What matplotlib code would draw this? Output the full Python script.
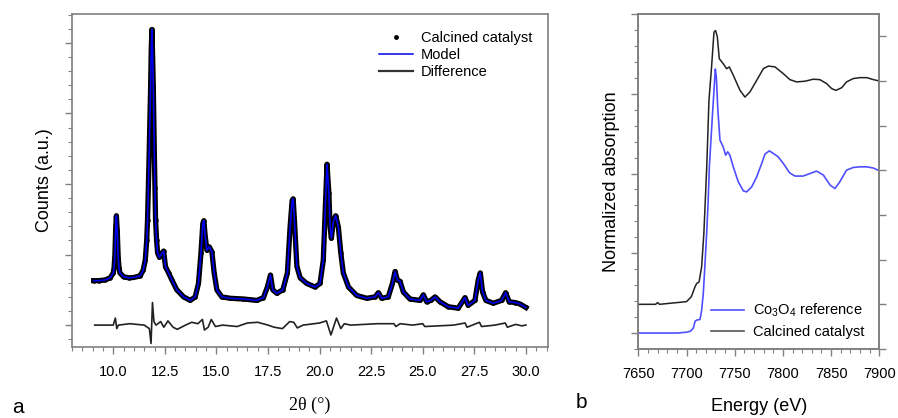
import matplotlib
matplotlib.use("Agg")
import matplotlib.pyplot as plt
from matplotlib.lines import Line2D
from matplotlib.ticker import MultipleLocator, NullFormatter

plt.rcParams['font.family'] = ['Liberation Sans', 'DejaVu Sans']
plt.rcParams['mathtext.fontset'] = 'custom'
plt.rcParams['mathtext.rm'] = 'Liberation Sans'
plt.rcParams['mathtext.it'] = 'Liberation Sans:italic'

# --- panel a: XRD refinement (2theta in degrees, counts in a.u.) ---
two_theta = [9.05, 9.3, 9.6, 9.85, 10.0, 10.04, 10.08, 10.12, 10.15, 10.19,
             10.24, 10.28, 10.32, 10.5, 10.75, 10.98, 11.2, 11.31, 11.45, 11.55,
             11.62, 11.66, 11.70, 11.74, 11.81, 11.84, 11.87, 11.90, 11.94, 11.99,
             12.02, 12.05, 12.10, 12.15, 12.24, 12.36, 12.44, 12.53, 12.68, 12.84,
             13.08, 13.41, 13.73, 13.97, 14.13, 14.25, 14.34, 14.39, 14.46, 14.54,
             14.65, 14.78, 14.89, 15.02, 15.26, 15.67, 16.31, 16.96, 17.28, 17.47,
             17.62, 17.73, 17.93, 18.22, 18.44, 18.57, 18.67, 18.72, 18.78, 18.9,
             19.06, 19.38, 19.78, 20.02, 20.18, 20.28, 20.36, 20.45, 20.51, 20.57,
             20.67, 20.78, 20.91, 21.03, 21.15, 21.4, 21.8, 22.29, 22.69, 22.85,
             23.01, 23.33, 23.53, 23.66, 23.77, 23.9, 24.06, 24.38, 24.87, 25.03,
             25.19, 25.39, 25.6, 25.84, 26.24, 26.72, 27.05, 27.2, 27.53, 27.69,
             27.79, 27.9, 28.06, 28.42, 28.82, 29.02, 29.19, 29.47, 29.71, 30.0]
obs_counts = [630, 630, 640, 670, 740, 820, 1000, 1400, 1550, 1350,
              950, 810, 740, 685, 670, 675, 690, 700, 780, 920,
              1200, 1490, 1950, 2440, 3380, 3900, 4190, 3900, 3380, 2440,
              1950, 1490, 1200, 1020, 960, 1020, 1050, 830, 740, 640,
              500, 400, 350, 400, 590, 1020, 1440, 1480, 1250, 1060,
              1110, 1040, 740, 500, 400, 380, 370, 350, 390, 540,
              710, 500, 450, 500, 740, 1390, 1770, 1790, 1490, 830,
              670, 590, 540, 590, 920, 1680, 2280, 1870, 1390, 1230,
              1470, 1550, 1390, 1020, 740, 540, 420, 380, 400, 460,
              380, 400, 590, 760, 640, 620, 470, 370, 350, 430,
              330, 350, 400, 330, 260, 240, 390, 280, 350, 640,
              740, 470, 350, 310, 350, 460, 330, 320, 300, 250]
# the refined model lies on the measured points within the line width
model_counts = list(obs_counts)

diff_theta = [9.1, 10.0, 10.1, 10.17, 10.25, 10.8, 11.5, 11.75, 11.83, 11.9,
              11.97, 12.07, 12.3, 12.45, 12.65, 12.9, 13.1, 13.5, 13.8, 14.1,
              14.32, 14.42, 14.6, 14.75, 14.95, 15.3, 16.0, 16.5, 17.0, 17.5,
              17.8, 18.2, 18.55, 18.75, 18.92, 19.2, 20.0, 20.33, 20.55, 20.82,
              21.03, 21.2, 21.5, 22.8, 23.6, 23.7, 23.9, 24.5, 25.0, 25.1,
              26.5, 27.05, 27.15, 27.75, 27.85, 28.5, 29.0, 29.1, 29.5, 29.8, 30.0]
diff_counts = [0, 0, 100, -50, 0, 20, 0, -50, -260, 320,
               50, 0, 50, -30, 60, -30, -60, 0, 40, 20,
               80, -70, -30, 80, -20, 0, -20, 30, 40, 0,
               -30, -50, 50, 40, -40, 0, 30, 60, -140, 100,
               -50, 20, 0, 20, 20, -20, 20, 0, 20, -20,
               0, 30, -30, 40, -20, 0, 30, -30, 10, -10, 0]

# --- panel b: Co K-edge XANES ---
energy_ref = [7650, 7690, 7700, 7704, 7707, 7709, 7711, 7714, 7715.7, 7717.4,
              7719, 7720.9, 7722.5, 7723.7, 7726.8, 7729.9, 7731, 7732.5, 7734.7, 7738,
              7740.6, 7742.7, 7745, 7748.5, 7753.7, 7759, 7762.4, 7767.6, 7772.8, 7778,
              7781.4, 7785.9, 7790, 7795, 7800.4, 7807, 7812.5, 7821, 7828, 7835,
              7842, 7849, 7854, 7859, 7866, 7873, 7880, 7887, 7894, 7900]
mu_ref = [0.0, 0.0, 0.005, 0.011, 0.03, 0.075, 0.082, 0.085, 0.142, 0.247,
          0.414, 0.624, 0.833, 1.042, 1.356, 1.655, 1.6, 1.4, 1.21, 1.168,
          1.115, 1.136, 1.115, 1.042, 0.948, 0.891, 0.885, 0.916, 0.979, 1.063,
          1.122, 1.142, 1.126, 1.105, 1.063, 1.004, 0.984, 0.984, 1.0, 1.015,
          0.99, 0.927, 0.906, 0.948, 1.021, 1.038, 1.042, 1.042, 1.034, 1.017]

energy_cat = [7650, 7668, 7670, 7672, 7700, 7705, 7708.8, 7710.5, 7713, 7715.7,
              7718, 7721, 7723.3, 7726, 7728.5, 7730.2, 7732, 7734, 7738, 7741.6,
              7744.4, 7748.5, 7755.5, 7760.6, 7765.8, 7772.8, 7779.7, 7784.9, 7791.8, 7800.4,
              7807.3, 7814.2, 7822.9, 7831.5, 7838.4, 7845.4, 7850.6, 7855, 7861, 7866,
              7873, 7880, 7887, 7894, 7900]
mu_cat = [0.0, 0.0, 0.008, 0.0, 0.012, 0.034, 0.078, 0.093, 0.10, 0.168,
          0.317, 0.615, 0.914, 1.063, 1.219, 1.226, 1.197, 1.10, 1.078, 1.055,
          1.063, 1.026, 0.958, 0.928, 0.951, 1.003, 1.055, 1.067, 1.063, 1.033,
          1.006, 0.996, 0.999, 1.008, 1.006, 0.988, 0.966, 0.958, 0.97, 0.996,
          1.011, 1.015, 1.015, 1.006, 1.0]

spine_grey = '#808080'


def style_axes(ax):
    for sp in ax.spines.values():
        sp.set_color(spine_grey)
        sp.set_linewidth(1.2)
    ax.tick_params(which='both', direction='out', color=spine_grey, labelsize=10.5)
    ax.tick_params(which='major', length=5, width=1)
    ax.tick_params(which='minor', length=3, width=0.8)


fig = plt.figure(figsize=(8.98, 4.18), dpi=100)

# panel a
ax1 = fig.add_axes([0.0802, 0.1699, 0.530, 0.7967])
ax1.plot(two_theta, obs_counts, color='black', lw=3.8, zorder=2)
ax1.plot(two_theta, obs_counts, color='black', marker='.', ms=4.5, ls='none', zorder=2)
ax1.plot(two_theta, model_counts, color='#0000ee', lw=1.2, zorder=3)
ax1.plot(diff_theta, diff_counts, color='#222222', lw=1.2, zorder=3)
ax1.set_xlim(8.0, 31.07)
ax1.set_ylim(-310, 4410)
ax1.xaxis.set_major_locator(MultipleLocator(2.5))
ax1.xaxis.set_minor_locator(MultipleLocator(0.5))
ax1.xaxis.set_major_formatter(plt.FuncFormatter(lambda v, p: f"{v:.1f}"))
ax1.yaxis.set_major_locator(MultipleLocator(1000))
ax1.yaxis.set_minor_locator(MultipleLocator(200))
ax1.yaxis.set_major_formatter(NullFormatter())
style_axes(ax1)
ax1.tick_params(axis='x', which='major', pad=8)
ax1.set_ylabel('Counts (a.u.)', fontsize=13, labelpad=5)
ax1.set_xlabel('2θ (°)', fontsize=13, family=['Liberation Serif', 'DejaVu Serif'], labelpad=13)

handles = [Line2D([], [], color='black', marker='.', ms=5, ls='none'),
           Line2D([], [], color='#0000ee', lw=1.1),
           Line2D([], [], color='#333333', lw=1.6)]
ax1.legend(handles, ['Calcined catalyst', 'Model', 'Difference'],
           loc='upper left', bbox_to_anchor=(0.645, 0.948), frameon=False,
           fontsize=10.5, handlelength=2.3, handletextpad=0.55,
           labelspacing=0.2, borderaxespad=0, borderpad=0)

# panel b
ax2 = fig.add_axes([0.7108, 0.1651, 0.2684, 0.8014])
ax2.plot(energy_ref, mu_ref, color='#4f4fff', lw=1.2)
ax2.set_xlim(7650, 7900)
ax2.set_ylim(-0.1, 2.0)
ax2.xaxis.set_major_locator(MultipleLocator(50))
ax2.xaxis.set_minor_locator(MultipleLocator(10))
ax2.yaxis.set_major_locator(MultipleLocator(0.5))
ax2.yaxis.set_minor_locator(MultipleLocator(0.1))
ax2.yaxis.set_major_formatter(NullFormatter())
style_axes(ax2)
ax2.tick_params(axis='x', which='major', pad=8)
ax2.set_ylabel('Normalized absorption', fontsize=13, labelpad=5)
ax2.set_xlabel('Energy (eV)', fontsize=13, labelpad=12)

ax3 = ax2.twinx()
ax3.plot(energy_cat, mu_cat, color='#222222', lw=1.1)
ax3.set_ylim(-0.2, 1.3)
ax3.yaxis.set_major_locator(MultipleLocator(0.2))
ax3.yaxis.set_major_formatter(NullFormatter())
style_axes(ax3)

handles_b = [Line2D([], [], color='#4f4fff', lw=1.2),
             Line2D([], [], color='#555555', lw=1.2)]
ax2.legend(handles_b, ['Co$_3$O$_4$ reference', 'Calcined catalyst'],
           loc='lower left', bbox_to_anchor=(0.30, 0.03), frameon=False,
           fontsize=10.5, handlelength=2.3, handletextpad=0.6,
           labelspacing=0.4, borderaxespad=0, borderpad=0)

fig.text(0.013, 0.012, 'a', fontsize=15)
fig.text(0.641, 0.025, 'b', fontsize=15)

fig.savefig('out.png', dpi=100)
